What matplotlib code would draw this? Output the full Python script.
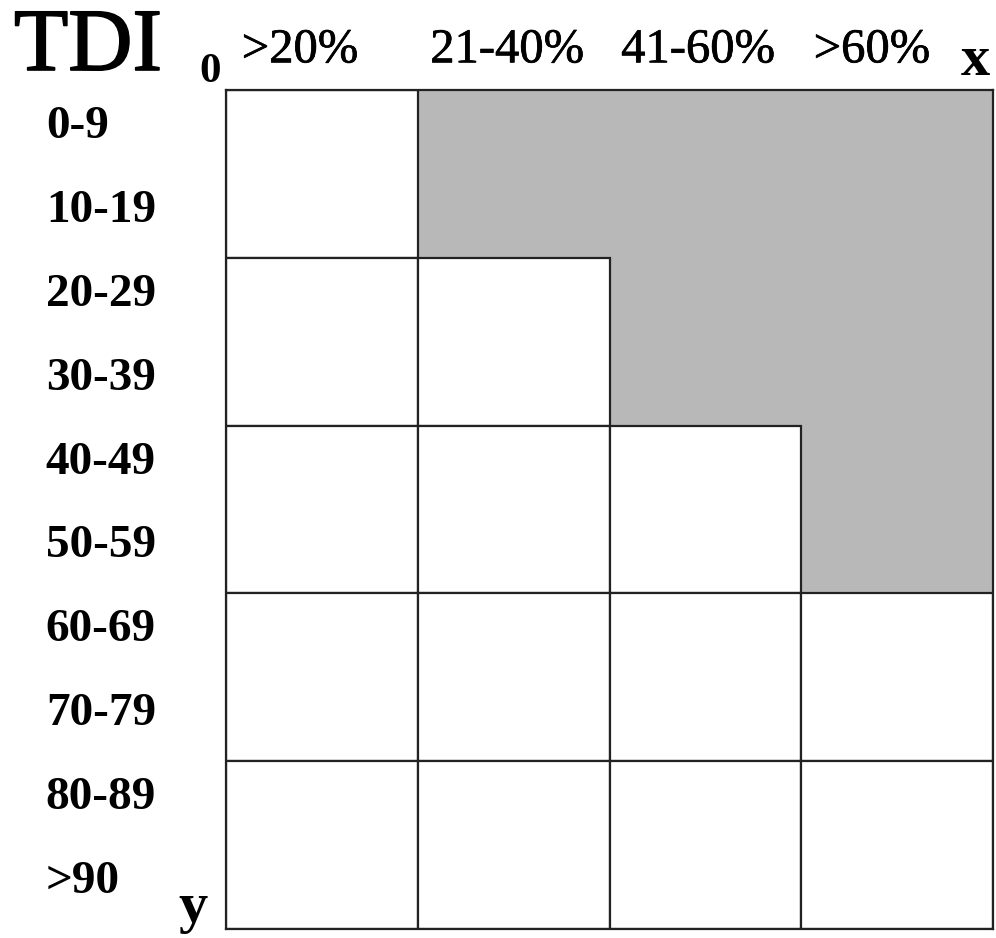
import matplotlib
matplotlib.use("Agg")
import matplotlib.pyplot as plt
from matplotlib.patches import Rectangle
import matplotlib.patheffects as pe

# ---- data ----
col_labels = [">20%", "21-40%", "41-60%", ">60%"]
row_labels = ["0-9", "10-19", "20-29", "30-39", "40-49",
              "50-59", "60-69", "70-79", "80-89", ">90"]
shaded = [
    [0, 1, 1, 1],
    [0, 0, 1, 1],
    [0, 0, 0, 1],
    [0, 0, 0, 0],
    [0, 0, 0, 0],
]
title = "TDI"

plt.rcParams['font.family'] = ['Liberation Serif', 'DejaVu Serif']

W, H = 996, 938
fig = plt.figure(figsize=(W / 100, H / 100), dpi=100)
ax = fig.add_axes([226 / W, 1 - 929 / H, (993 - 226) / W, (929 - 90) / H])

nrows = len(shaded)
ncols = len(shaded[0])
ax.set_xlim(0, ncols)
ax.set_ylim(nrows, 0)
ax.set_xticks([])
ax.set_yticks([])
for s in ax.spines.values():
    s.set_linewidth(1.6)
    s.set_color('#222222')

gray = '#b8b8b8'
lc = '#222222'
for r in range(nrows):
    for c in range(ncols):
        if shaded[r][c]:
            ax.add_patch(Rectangle((c, r), 1, 1, facecolor=gray, edgecolor='none', zorder=1))
for r in range(nrows):
    for c in range(ncols):
        if not shaded[r][c]:
            ax.add_patch(Rectangle((c, r), 1, 1, facecolor='white', edgecolor=lc,
                                   linewidth=1.6, zorder=2))

# column labels (slightly left of each column centre, as in the original)
col_label_shift = [-0.114, -0.034, -0.038, -0.131]
for i, lab in enumerate(col_labels):
    ax.text(i + 0.5 + col_label_shift[i], -0.165, lab, ha='center', va='baseline',
            fontsize=35, clip_on=False,
            path_effects=[pe.withStroke(linewidth=0.5, foreground='black')])

# row labels
for k, lab in enumerate(row_labels):
    ax.text(-0.94, k * 0.5 + 0.22, lab, ha='left', va='center', fontsize=34,
            fontweight='bold', clip_on=False)

# axis markers
ax.text(-0.083, -0.045, "0", ha='center', va='baseline', fontsize=31, fontweight='bold', clip_on=False)
ax.text(3.906, -0.09, "x", ha='center', va='baseline', fontsize=42, fontweight='bold', clip_on=False)
ax.text(-0.172, 4.96, "y", ha='center', va='baseline', fontsize=42, fontweight='bold', clip_on=False)

fig.text(14 / W, 1 - 70 / H, title, ha='left', va='baseline', fontsize=64,
         path_effects=[pe.withStroke(linewidth=1.2, foreground='black')])

fig.savefig("out.png", dpi=100, facecolor='white')
